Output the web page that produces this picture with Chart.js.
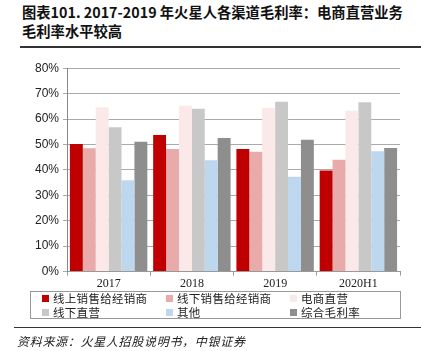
<!DOCTYPE html>
<html><head><meta charset="utf-8">
<script src="https://cdn.jsdelivr.net/npm/chart.js@4/dist/chart.umd.min.js"></script>
<style>
html,body{margin:0;padding:0;background:#fff;width:421px;height:351px;overflow:hidden;position:relative;font-family:"Noto Sans CJK SC",sans-serif;}
#title{position:absolute;left:22px;top:2px;font-size:14.3px;font-weight:bold;line-height:19px;color:#111;white-space:nowrap;}
#rule1{position:absolute;left:20px;right:0;top:46px;height:2px;background:#333;}
#wrap{position:absolute;left:0;top:57px;width:421px;height:235px;}
#legend{position:absolute;left:30px;top:291px;width:369px;height:26px;border:1px solid #999;font-size:11.5px;color:#222;}
.li{position:absolute;display:flex;align-items:center;white-space:nowrap;line-height:12px;letter-spacing:0.3px;}
.sw{width:7px;height:7px;margin-right:4px;}
#rule2{position:absolute;left:14px;right:0;top:327px;height:1px;background:#333;}
#src{position:absolute;left:17px;top:332px;font-size:12px;font-style:italic;color:#222;letter-spacing:0.7px;}
</style></head><body>
<div id="title">图表101. 2017-2019 年火星人各渠道毛利率：电商直营业务<br>毛利率水平较高</div>
<div id="rule1"></div>
<div id="wrap"><canvas id="c"></canvas></div>
<div id="legend"></div>
<div id="rule2"></div>
<div id="src">资料来源：火星人招股说明书，中银证券</div>
<script>
const categories = ["2017","2018","2019","2020H1"];
const seriesNames = ["线上销售给经销商","线下销售给经销商","电商直营","线下直营","其他","综合毛利率"];
const onlineDealer = [50.2, 53.7, 48.2, 39.8];
const offlineDealer = [48.5, 48.2, 47.1, 44.0];
const ecomDirect = [64.6, 65.2, 64.3, 63.3];
const offlineDirect = [56.8, 64.1, 66.8, 66.6];
const others = [35.9, 43.8, 37.3, 47.3];
const overall = [51.1, 52.5, 51.9, 48.6];
const yTicks = [0,10,20,30,40,50,60,70,80];
const colors = ["#C00000","#E9AAAA","#FBE8E8","#C8C8C8","#BDD7EE","#8E8E8E"];
const seriesData = [onlineDealer, offlineDealer, ecomDirect, offlineDirect, others, overall];

const datasets = seriesNames.map((n,i)=>({label:n,data:seriesData[i],backgroundColor:colors[i],borderWidth:0,categoryPercentage:0.93,barPercentage:1.0}));

new Chart(document.getElementById('c'),{
  type:'bar',
  data:{labels:categories,datasets},
  options:{
    responsive:true,maintainAspectRatio:false,animation:false,
    layout:{padding:{top:8,right:21,left:0,bottom:0}},
    plugins:{legend:{display:false},tooltip:{enabled:false}},
    scales:{
      x:{
        grid:{drawOnChartArea:false,drawTicks:true,tickLength:4,color:'#999',offset:true},
        border:{color:'#999',width:1},
        ticks:{color:'#222',font:{family:'"Liberation Serif", serif',size:12},padding:1}
      },
      y:{
        min:0,max:80,
        afterBuildTicks:(s)=>{s.ticks=yTicks.map(v=>({value:v}));},
        afterFit:(s)=>{s.width=67;},
        grid:{color:'#aaa',tickLength:4,drawTicks:true},
        border:{color:'#888',width:1},
        ticks:{color:'#222',font:{family:'"Liberation Sans", Arial, sans-serif',size:12},padding:4,callback:v=>v+'%'}
      }
    }
  }
});

const lg=document.getElementById('legend');
const pos=[[11,5],[135,5],[259,5],[11,19],[135,19],[259,19]];
seriesNames.forEach((n,i)=>{
  const d=document.createElement('div');d.className='li';
  d.style.left=pos[i][0]+'px';d.style.top=(pos[i][1]-5)+'px';
  d.innerHTML='<span class="sw" style="background:'+colors[i]+'"></span>'+n;
  lg.appendChild(d);
});
</script>
</body></html>
